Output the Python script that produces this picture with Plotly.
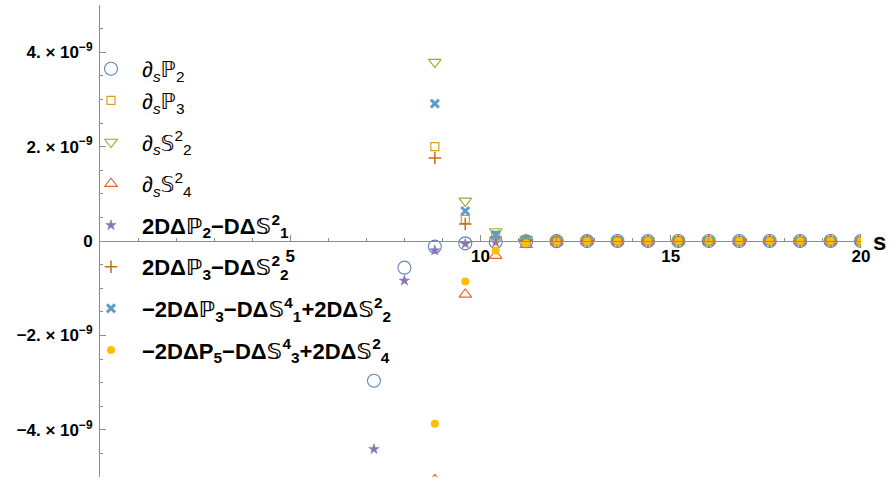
import plotly.graph_objects as go

# s values
s_vals = [7.2, 8.0, 8.8, 9.6, 10.4, 11.2, 12.0, 12.8, 13.6, 14.4, 15.2, 16.0, 16.8, 17.6, 18.4, 19.2, 20.0]

# series values in units of 1e-9 (None = off the visible range)
dP2 = [-2.96, -0.565, -0.12, -0.05, -0.02, -0.005, -0.003, -0.002, -0.001, -0.001, 0, 0, 0, 0, 0, 0, 0]
dP3 = [None, None, 2.0, 0.46, 0.12, 0.02, 0.008, 0.004, 0.002, 0.001, 0.001, 0, 0, 0, 0, 0, 0]
dS22 = [None, None, 3.79, 0.85, 0.2, 0.04, 0.012, 0.006, 0.003, 0.002, 0.001, 0.001, 0, 0, 0, 0, 0]
dS24 = [None, None, -5.06, -1.13, -0.31, -0.08, -0.02, -0.008, -0.004, -0.002, -0.001, -0.001, 0, 0, 0, 0, 0]
c1 = [-4.41, -0.84, -0.2, -0.06, -0.03, -0.006, -0.004, -0.002, -0.001, -0.001, 0, 0, 0, 0, 0, 0, 0]
c2 = [None, None, 1.76, 0.36, 0.08, 0.01, 0.005, 0.003, 0.001, 0.001, 0, 0, 0, 0, 0, 0, 0]
c3 = [None, None, 2.91, 0.635, 0.13, 0.03, 0.01, 0.005, 0.002, 0.001, 0.001, 0, 0, 0, 0, 0, 0]
c4 = [None, None, -3.87, -0.86, -0.2, -0.05, -0.012, -0.006, -0.003, -0.002, -0.001, -0.001, 0, 0, 0, 0, 0]

names = [
    "∂<sub><i>s</i></sub>ℙ<sub>2</sub>",
    "∂<sub><i>s</i></sub>ℙ<sub>3</sub>",
    "∂<sub><i>s</i></sub>𝕊<sup>2</sup><sub>2</sub>",
    "∂<sub><i>s</i></sub>𝕊<sup>2</sup><sub>4</sub>",
    "<b>2DΔℙ<sub>2</sub>−DΔ𝕊<sup>2</sup><sub>1</sub></b>",
    "<b>2DΔℙ<sub>3</sub>−DΔ𝕊<sup>2</sup><sub>2</sub></b>",
    "<b>−2DΔℙ<sub>3</sub>−DΔ𝕊<sup>4</sup><sub>1</sub>+2DΔ𝕊<sup>2</sup><sub>2</sub></b>",
    "<b>−2DΔP<sub>5</sub>−DΔ𝕊<sup>4</sup><sub>3</sub>+2DΔ𝕊<sup>2</sup><sub>4</sub></b>",
]
groups = ["g0", "g0", "g2", "g3", "g4", "g5", "g6", "g7"]
series = [dP2, dP3, dS22, dS24, c1, c2, c3, c4]
colors = ["#5E81B5", "#E19C24", "#8FB032", "#EB6235", "#8778B3", "#C56E1A", "#5D9EC7", "#FFBF00"]
symbols = ["circle-open", "square-open", "triangle-down-open", "triangle-up-open",
           "star", "cross-thin", "x-thin", "circle"]
sizes = [13, 8, 11, 11, 8, 9, 8, 8]
widths = [1.1, 1.2, 1.1, 1.1, 0.5, 1.5, 3.0, 0]

fig = go.Figure()
for i, (nm, ys) in enumerate(zip(names, series)):
    yv = [None if v is None else v * 1e-9 for v in ys]
    fig.add_trace(go.Scatter(
        x=s_vals, y=yv, mode="markers", name="\u2002" + nm,
        legendgroup=groups[i],
        marker=dict(symbol=symbols[i], size=sizes[i], color=colors[i],
                    line=dict(color=colors[i], width=widths[i])),
    ))

W, H = 891, 479
left, right, top, bottom = 100, 861, 5, 477
axcol = "#8c8c8c"
ytv = [-4e-9, -2e-9, 0, 2e-9, 4e-9]
ytt = ["−4. × 10<sup>−9</sup>", "−2. × 10<sup>−9</sup>", "0", "2. × 10<sup>−9</sup>", "4. × 10<sup>−9</sup>"]

fig.update_layout(
    width=W, height=H,
    margin=dict(l=0, r=W - right, t=0, b=0, autoexpand=False),
    paper_bgcolor="white", plot_bgcolor="white",
    font=dict(family="Liberation Sans, Arial", color="black"),
    showlegend=True,
    legend=dict(x=91 / right, y=(H - 48) / H, xanchor="left", yanchor="top",
                bgcolor="rgba(0,0,0,0)", font=dict(size=22, family="Liberation Sans, DejaVu Sans"),
                tracegroupgap=10),
    xaxis=dict(domain=[left / right, 1], range=[0, 20], anchor="free",
               position=((H - bottom) + (H - top)) / 2 / H,
               showline=True, linecolor=axcol, linewidth=1, showgrid=False, zeroline=False,
               automargin=False,
               tickmode="array", tickvals=[5, 10, 15, 20], ticks="inside", ticklen=6,
               tickcolor=axcol,
               tickfont=dict(size=17, weight="bold", color="black"),
               minor=dict(tickmode="linear", tick0=0, dtick=1, ticks="inside", ticklen=3,
                          tickcolor=axcol, showgrid=False)),
    yaxis=dict(domain=[(H - bottom) / H, (H - top) / H], range=[-5e-9, 5e-9],
               showline=True, linecolor=axcol, linewidth=1,
               showgrid=False, zeroline=False, automargin=False,
               tickmode="array", tickvals=ytv, ticktext=ytt, ticks="inside", ticklen=6,
               tickcolor=axcol, ticklabelstandoff=3,
               tickfont=dict(size=17, weight="bold", color="black"),
               minor=dict(tickmode="linear", tick0=0, dtick=0.5e-9, ticks="inside", ticklen=3,
                          tickcolor=axcol, showgrid=False)),
    annotations=[dict(text="<b>s</b>", xref="paper", yref="y", x=1.0, y=0,
                      xanchor="left", yanchor="middle", xshift=10, showarrow=False,
                      font=dict(size=24, color="black"))],
)

fig.write_html("out.html", config={"displayModeBar": False},
               post_script="document.body.style.margin='0';")
